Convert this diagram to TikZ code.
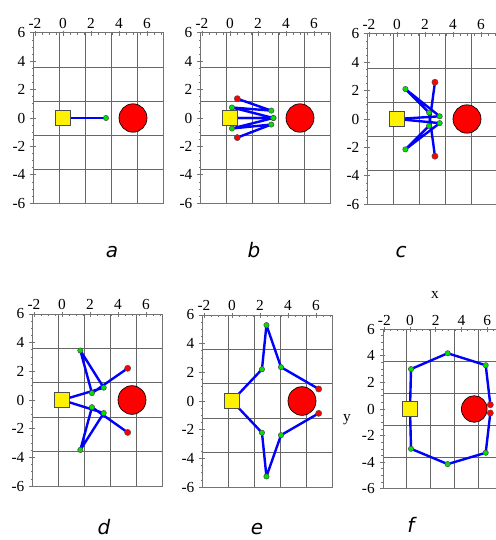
\documentclass[tikz,border=0pt]{standalone}
\usepackage{fontspec}
\setmainfont{Liberation Serif}
\newfontfamily\capfont{DejaVu Sans}
\usepackage{xcolor}
\usepackage{tikz}
\usetikzlibrary{backgrounds}
\definecolor{dotgreen}{RGB}{0,225,0}
\definecolor{routeblue}{RGB}{0,0,255}

\newcommand\plotframe[1]{%
\begin{pgfonlayer}{background}
\foreach \i in {1,...,4}{
\draw[gridline]({-2.1+1.85*\i},-6)--({-2.1+1.85*\i},6);
\draw[gridline](-2.1,{-6+2.4*\i})--(7.15,{-6+2.4*\i});}
\draw[frameline](-2.1,-6)rectangle(7.15,6);
\foreach \t in {-2,-1.5,...,7}\draw[frameline](\t,6)--++(0pt,-1.5pt);
\foreach \t in {-6,-5.5,...,6}\draw[frameline](-2.1,\t)--++(-1.5pt,0pt);
\foreach \t in {-2,0,...,6}\draw[frameline](\t,6)++(0pt,1.5pt)--++(0pt,-4pt);
\foreach \t in {-6,-4,...,6}\draw[frameline](-2.1,\t)++(1.5pt,0pt)--++(-4pt,0pt);
\end{pgfonlayer}
\foreach \t in {-2,0,...,6}\node[ticklabel,anchor=base,yshift=3pt](#1x\t)at(\t,6){\t};
\foreach \t in {-6,-4,...,6}\node[ticklabel,anchor=east,xshift=-6pt](#1y\t)at(-2.1,\t){\t};
}

\newcommand\routes[9]{%
\node[gdot](#1u1)at(#2){};\node[gdot](#1u2)at(#3){};
\node[gdot](#1u3)at(#4){};\node[rdot](#1u4)at(#5){};
\node[gdot](#1l1)at(#6){};\node[gdot](#1l2)at(#7){};
\node[gdot](#1l3)at(#8){};\node[rdot](#1l4)at(#9){};
\begin{pgfonlayer}{background}
\draw[route](#1S.center)--(#1u1.center)--(#1u2.center)--(#1u3.center)--(#1u4.center);
\draw[route](#1S.center)--(#1l1.center)--(#1l2.center)--(#1l3.center)--(#1l4.center);
\end{pgfonlayer}}

\begin{document}
\begin{tikzpicture}[x=0.75pt,y=-0.75pt,
gridline/.style={black!60,line width=0.5pt},
frameline/.style={black!55,line width=0.6pt},
route/.style={routeblue,line width=1.8pt,line join=round},
gdot/.style={circle,fill=dotgreen,draw=black!70,line width=0.4pt,inner sep=0,minimum size=4pt},
rdot/.style={gdot,fill=red,minimum size=4.6pt},
startbox/.style={draw=black!70,fill=yellow,line width=0.6pt,inner sep=0,minimum size=11pt},
obst/.style={fill=red,draw=black,line width=0.5pt},
ticklabel/.style={inner sep=0,font=\fontsize{11.5pt}{13pt}\selectfont},
panelcap/.style={inner sep=0,anchor=base,font=\capfont\itshape\fontsize{15pt}{18pt}\selectfont}]
\useasboundingbox(0,0)rectangle(496,540);

\begin{scope}[shift={(63,118)},x=10.5pt,y=10.65pt]
\plotframe{a}
\filldraw[obst](5,0)circle[radius=1];
\node[startbox](aS)at(0,0){};
\node[gdot](a1)at(3.07,0){};
\begin{pgfonlayer}{background}
\draw[route](aS.center)--(a1.center);
\end{pgfonlayer}
\end{scope}

\begin{scope}[shift={(230,118)},x=10.5pt,y=10.65pt]
\plotframe{b}
\filldraw[obst](5,0)circle[radius=1];
\node[startbox](bS)at(0,0){};
\routes{b}{3.1,0}{0.14,0.74}{2.95,0.52}{0.52,1.36}{3.1,0}{0.14,-0.74}{2.95,-0.46}{0.52,-1.38}
\end{scope}

\begin{scope}[shift={(397,119)},x=10.5pt,y=10.65pt]
\plotframe{c}
\filldraw[obst](5,0)circle[radius=1];
\node[startbox](cS)at(0,0){};
\routes{c}{3.05,0.19}{0.6,2.11}{2.29,0.45}{2.71,-2.62}{3.05,-0.29}{0.6,-2.14}{2.29,-0.48}{2.71,2.59}
\end{scope}

\begin{scope}[shift={(62,400)},x=10.5pt,y=10.76pt]
\plotframe{d}
\filldraw[obst](5,0)circle[radius=1];
\node[startbox](dS)at(0,0){};
\routes{d}{2.98,0.86}{1.31,3.45}{2.14,0.48}{4.69,2.21}{2.98,-0.91}{1.31,-3.48}{2.14,-0.5}{4.69,-2.26}
\end{scope}

\begin{scope}[shift={(232,401)},x=10.5pt,y=10.76pt]
\plotframe{e}
\filldraw[obst](5,0)circle[radius=1];
\node[startbox](eS)at(0,0){};
\routes{e}{2.14,2.21}{2.46,5.29}{3.5,2.36}{6.19,0.84}{2.14,-2.21}{2.46,-5.26}{3.5,-2.38}{6.19,-0.86}
\end{scope}

\begin{scope}[shift={(410,409)},x=9.64pt,y=9.98pt]
\plotframe{f}
\filldraw[obst](5,0)circle[radius=1];
\node[startbox](fS)at(0,0){};
\routes{f}{0.08,3.0}{2.93,4.19}{5.89,3.29}{6.25,0.32}{0.08,-2.99}{2.93,-4.14}{5.89,-3.29}{6.25,-0.3}
\end{scope}

\node[ticklabel](fxt)at(435,295){x};
\node[ticklabel](fyt)at(347,420){y};

\node[panelcap](capa)at(112,257){a};
\node[panelcap](capb)at(254,257){b};
\node[panelcap](capc)at(401,257){c};
\node[panelcap](capd)at(104,534){d};
\node[panelcap](cape)at(257,534){e};
\node[panelcap](capf)at(411,532){f};
\end{tikzpicture}
\end{document}
